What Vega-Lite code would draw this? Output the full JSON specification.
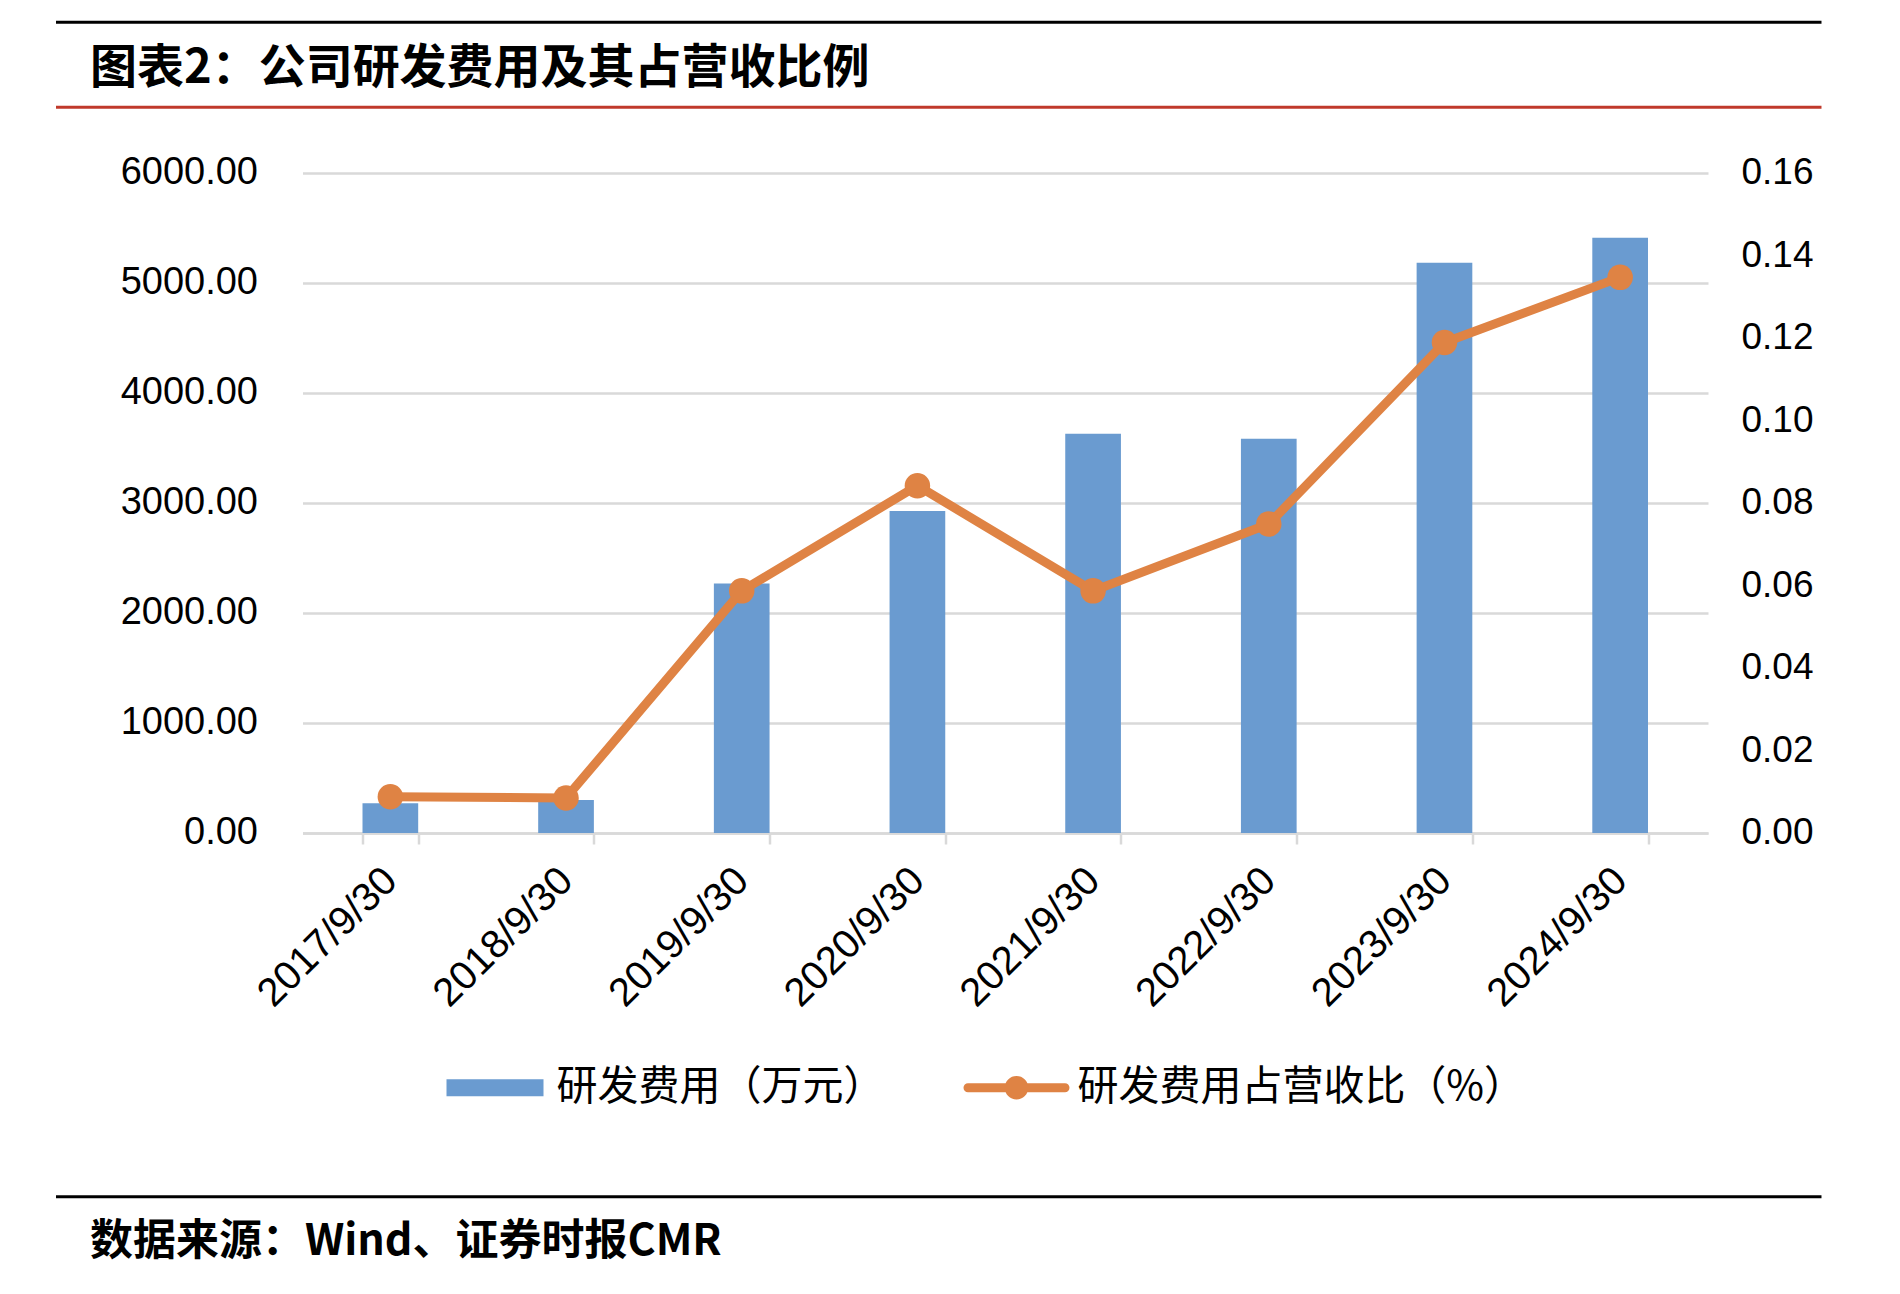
{
  "$schema": "https://vega.github.io/schema/vega-lite/v6.json",
  "background": "white",
  "padding": {"left": 54.5, "top": 20.3, "right": 0, "bottom": 0},
  "autosize": {"type": "pad"},
  "config": {"view": {"stroke": null}, "font": "Liberation Sans"},
  "spacing": 44.7,
  "vconcat": [
    {
      "width": 1405.5,
      "height": 85,
      "data": {"values": [{"title": "图表2：公司研发费用及其占营收比例"}]},
      "layer": [
        {
          "mark": {"type": "rule", "color": "#000000", "strokeWidth": 3},
          "encoding": {
            "x": {"datum": -0.17538, "type": "quantitative", "scale": {"domain": [0, 1]}, "axis": null},
            "x2": {"datum": 1.08075},
            "y": {"datum": 1, "type": "quantitative", "scale": {"domain": [0, 1]}, "axis": null}
          }
        },
        {
          "mark": {"type": "rule", "color": "#c0392b", "strokeWidth": 3},
          "encoding": {
            "x": {"datum": -0.17538, "type": "quantitative", "scale": {"domain": [0, 1]}, "axis": null},
            "x2": {"datum": 1.08075},
            "y": {"datum": 0, "type": "quantitative", "scale": {"domain": [0, 1]}, "axis": null}
          }
        },
        {
          "mark": {"type": "text", "align": "left", "baseline": "middle", "dy": 4, "font": "Noto Sans CJK SC", "fontSize": 47, "fontWeight": "bold", "color": "#000000"},
          "encoding": {
            "text": {"field": "title"},
            "x": {"datum": -0.1512, "type": "quantitative", "scale": {"domain": [0, 1]}, "axis": null},
            "y": {"datum": 0.5, "type": "quantitative", "scale": {"domain": [0, 1]}, "axis": null}
          }
        }
      ]
    },
    {
      "width": 1405.5,
      "height": 660,
      "data": {
        "values": [
          {"date": "2017/9/30", "rd": 270, "ratio": 0.0088},
          {"date": "2018/9/30", "rd": 300, "ratio": 0.0085},
          {"date": "2019/9/30", "rd": 2269, "ratio": 0.0587},
          {"date": "2020/9/30", "rd": 2927, "ratio": 0.0842},
          {"date": "2021/9/30", "rd": 3630, "ratio": 0.0587},
          {"date": "2022/9/30", "rd": 3585, "ratio": 0.0749},
          {"date": "2023/9/30", "rd": 5185, "ratio": 0.1189},
          {"date": "2024/9/30", "rd": 5412, "ratio": 0.1347}
        ]
      },
      "encoding": {
        "x": {
          "field": "date",
          "type": "ordinal",
          "sort": null,
          "scale": {"paddingInner": 0.683, "paddingOuter": 0.3415},
          "axis": {
            "title": null,
            "labelAngle": -45,
            "labelAlign": "right",
            "labelBaseline": "middle",
            "labelFont": "Liberation Sans",
            "labelFontSize": 40,
            "labelColor": "#000000",
            "labelPadding": 30,
            "labelOverlap": false,
            "labelLimit": 1000,
            "tickBand": "extent",
            "ticks": true,
            "tickSize": 11,
            "tickColor": "#d9d9d9",
            "tickWidth": 2.5,
            "domainColor": "#d9d9d9",
            "domainWidth": 2.5,
            "grid": false,
            "minExtent": 316.8,
            "maxExtent": 316.8
          }
        }
      },
      "layer": [
        {
          "mark": {"type": "bar", "color": "#6a9bd0"},
          "encoding": {
            "y": {
              "field": "rd",
              "type": "quantitative",
              "scale": {"domain": [0, 6000], "nice": false},
              "axis": {
                "title": null,
                "values": [0, 1000, 2000, 3000, 4000, 5000, 6000],
                "format": ".2f",
                "labelFont": "Liberation Sans",
                "labelFontSize": 38,
                "labelColor": "#000000",
                "labelPadding": 45,
                "ticks": false,
                "domain": false,
                "grid": true,
                "gridColor": "#d9d9d9",
                "gridWidth": 2.5,
                "minExtent": 246.5,
                "maxExtent": 246.5
              }
            },
            "fill": {
              "datum": "研发费用（万元）",
              "type": "nominal",
              "scale": {"range": ["#6a9bd0"]},
              "legend": {
                "orient": "none",
                "legendX": 144,
                "legendY": 1017,
                "title": null,
                "padding": 0,
                "symbolType": "M-1,-0.175L1,-0.175L1,0.175L-1,0.175Z",
                "symbolSize": 9409,
                "symbolStrokeWidth": 0,
                "labelFont": "Noto Sans CJK SC",
                "labelFontSize": 41,
                "labelColor": "#000000",
                "labelOffset": 13,
                "labelLimit": 1000
              }
            }
          }
        },
        {
          "encoding": {
            "y": {
              "field": "ratio",
              "type": "quantitative",
              "scale": {"domain": [0, 0.16], "nice": false},
              "axis": {
                "orient": "right",
                "title": null,
                "values": [0, 0.02, 0.04, 0.06, 0.08, 0.1, 0.12, 0.14, 0.16],
                "format": ".2f",
                "labelFont": "Liberation Sans",
                "labelFontSize": 37,
                "labelColor": "#000000",
                "labelPadding": 33,
                "ticks": false,
                "domain": false,
                "grid": false
              }
            }
          },
          "layer": [
            {
              "mark": {"type": "line", "strokeWidth": 9, "strokeCap": "round", "strokeJoin": "round"},
              "encoding": {
                "stroke": {
                  "datum": "研发费用占营收比（%）",
                  "type": "nominal",
                  "scale": {"range": ["#df8344"]},
                  "legend": {
                    "orient": "none",
                    "legendX": 661,
                    "legendY": 1012.5,
                    "title": null,
                    "padding": 0,
                    "symbolType": "M-1,0L1,0M-0.15,0A0.15,0.15,0,1,0,0.15,0A0.15,0.15,0,1,0,-0.15,0Z",
                    "symbolSize": 9409,
                    "symbolStrokeWidth": 9,
                    "symbolFillColor": "#df8344",
                    "symbolStrokeColor": "#df8344",
                    "labelFont": "Noto Sans CJK SC",
                    "labelFontSize": 41,
                    "labelColor": "#000000",
                    "labelOffset": 8,
                    "labelLimit": 1000,
                    "encode": {"symbols": {"update": {"fill": {"value": "#df8344"}, "strokeCap": {"value": "round"}}}}
                  }
                }
              }
            },
            {
              "mark": {"type": "point", "filled": true, "size": 650, "color": "#df8344", "opacity": 1}
            }
          ]
        }
      ],
      "resolve": {"scale": {"y": "independent"}}
    },
    {
      "width": 1405.5,
      "height": 86,
      "data": {"values": [{"source": "数据来源：Wind、证券时报CMR"}]},
      "layer": [
        {
          "mark": {"type": "rule", "color": "#000000", "strokeWidth": 3},
          "encoding": {
            "x": {"datum": -0.17538, "type": "quantitative", "scale": {"domain": [0, 1]}, "axis": null},
            "x2": {"datum": 1.08075},
            "y": {"datum": 1, "type": "quantitative", "scale": {"domain": [0, 1]}, "axis": null}
          }
        },
        {
          "mark": {"type": "text", "align": "left", "baseline": "middle", "dy": 2, "font": "Noto Sans CJK SC", "fontSize": 43, "fontWeight": "bold", "color": "#000000"},
          "encoding": {
            "text": {"field": "source"},
            "x": {"datum": -0.1512, "type": "quantitative", "scale": {"domain": [0, 1]}, "axis": null},
            "y": {"datum": 0.5, "type": "quantitative", "scale": {"domain": [0, 1]}, "axis": null}
          }
        }
      ]
    }
  ]
}
